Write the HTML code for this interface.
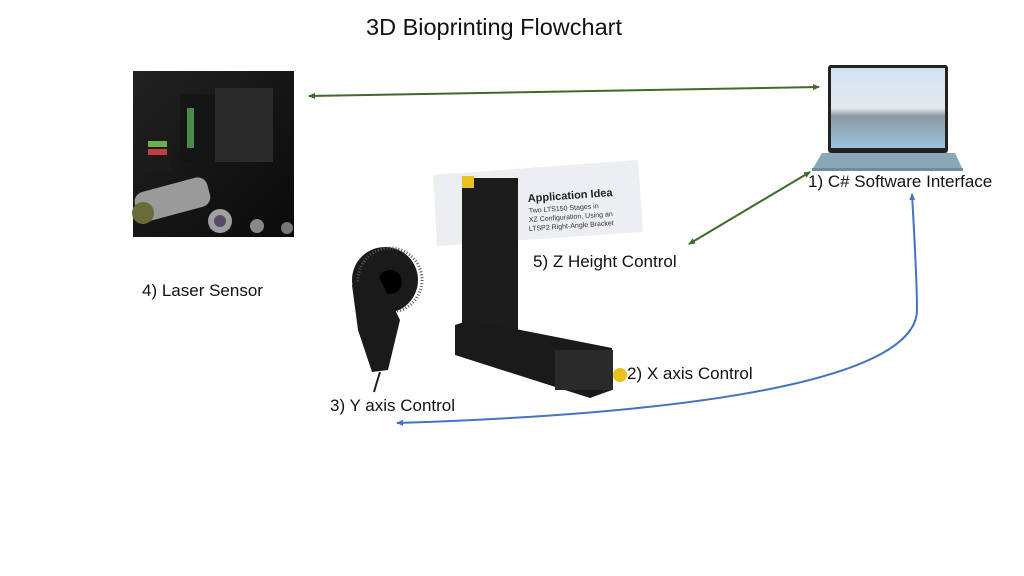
<!DOCTYPE html>
<html><head><meta charset="utf-8"><style>
body{margin:0;width:1024px;height:576px;background:#fff;overflow:hidden;font-family:"Liberation Sans",sans-serif}
svg{position:absolute;left:0;top:0}
.t{position:absolute;color:#111;white-space:nowrap;font-size:17px}
</style></head><body>
<svg width="1024" height="576" viewBox="0 0 1024 576">
<defs>
<marker id="g" markerWidth="8" markerHeight="8" refX="6" refY="4" orient="auto-start-reverse" markerUnits="userSpaceOnUse"><path d="M0,1 L7,4 L0,7z" fill="#3e6b2a"/></marker>
<marker id="b" markerWidth="8" markerHeight="8" refX="6" refY="4" orient="auto-start-reverse" markerUnits="userSpaceOnUse"><path d="M0,1 L7,4 L0,7z" fill="#4472c4"/></marker>
<linearGradient id="sky" x1="0" y1="0" x2="0" y2="1"><stop offset="0" stop-color="#cfe3f3"/><stop offset="0.5" stop-color="#e6e8ec"/><stop offset="0.6" stop-color="#8a9aa4"/><stop offset="1" stop-color="#9cc3de"/></linearGradient>
<linearGradient id="lg" x1="0" y1="0" x2="1" y2="1"><stop offset="0" stop-color="#222"/><stop offset="1" stop-color="#0a0a0a"/></linearGradient>
</defs>
<rect x="133" y="71" width="161" height="166" fill="url(#lg)"/>
<rect x="180" y="94" width="60" height="68" fill="#151515"/>
<rect x="215" y="88" width="58" height="74" fill="#2a2a2a"/>
<rect x="187" y="108" width="7" height="40" fill="#4a8a4a"/>
<rect x="144" y="137" width="27" height="35" fill="#1b1b1b"/>
<rect x="148" y="141" width="19" height="6" fill="#6ab04c"/><rect x="148" y="149" width="19" height="6" fill="#c04040"/>
<rect x="135" y="185" width="75" height="30" rx="10" fill="#9a9a9a" transform="rotate(-15 170 200)"/>
<circle cx="143" cy="213" r="11" fill="#6b6b3a"/>
<circle cx="220" cy="221" r="12" fill="#a0a0a0"/><circle cx="220" cy="221" r="6" fill="#5a4a6a"/>
<circle cx="257" cy="226" r="7" fill="#888"/><circle cx="287" cy="228" r="6" fill="#777"/>
<rect x="828" y="65" width="120" height="88" rx="3" fill="#222"/>
<rect x="831" y="68" width="114" height="80" fill="url(#sky)"/>
<path d="M812 170 L822 153 L955 153 L963 170 Z" fill="#8aa7b8"/>
<rect x="812" y="168" width="151" height="3" fill="#6f8c9c"/>
<polygon points="433,175 638,160 643,232 437,246" fill="#eceef2"/>
<text x="528" y="202" font-size="11" font-weight="bold" fill="#222" transform="rotate(-4 528 202)">Application Idea</text>
<text x="529" y="213" font-size="7" fill="#333" transform="rotate(-4 529 213)">Two LTS150 Stages in</text>
<text x="529" y="222" font-size="7" fill="#333" transform="rotate(-4 529 222)">XZ Configuration, Using an</text>
<text x="529" y="231" font-size="7" fill="#333" transform="rotate(-4 529 231)">LTSP2 Right-Angle Bracket</text>
<rect x="462" y="178" width="56" height="160" fill="#1c1c1c"/>
<rect x="462" y="176" width="12" height="12" fill="#e8c020"/>
<polygon points="455,325 470,320 612,348 612,390 590,398 455,355" fill="#1a1a1a"/>
<rect x="555" y="350" width="58" height="40" fill="#2a2a2a"/>
<circle cx="620" cy="375" r="7" fill="#e8c020"/>
<circle cx="385" cy="280" r="33" fill="#1a1a1a"/>
<circle cx="390" cy="280" r="32" fill="none" stroke="#555" stroke-width="3" stroke-dasharray="1 2"/>
<circle cx="390" cy="282" r="12" fill="#000"/>
<path d="M352 285 L378 275 L400 320 L388 370 L372 372 L358 330 Z" fill="#1a1a1a"/>
<path d="M380 372 Q376 385 374 392" stroke="#222" stroke-width="2" fill="none"/>
<line x1="309" y1="96" x2="819" y2="87" stroke="#3e6b2a" stroke-width="2" marker-start="url(#g)" marker-end="url(#g)"/>
<line x1="689" y1="244" x2="810" y2="172" stroke="#3e6b2a" stroke-width="2" marker-start="url(#g)" marker-end="url(#g)"/>
<path d="M912 194 C914 230 917 280 917 310 C917 360 800 410 397 423" stroke="#4472c4" stroke-width="2" fill="none" marker-start="url(#b)" marker-end="url(#b)"/>
</svg>
<div class="t" style="left:366px;top:14px;font-size:23.5px">3D Bioprinting Flowchart</div>
<div class="t" style="left:808px;top:172px">1) C# Software Interface</div>
<div class="t" style="left:533px;top:252px">5) Z Height Control</div>
<div class="t" style="left:142px;top:281px">4) Laser Sensor</div>
<div class="t" style="left:627px;top:364px">2) X axis Control</div>
<div class="t" style="left:330px;top:396px">3) Y axis Control</div>
</body></html>
